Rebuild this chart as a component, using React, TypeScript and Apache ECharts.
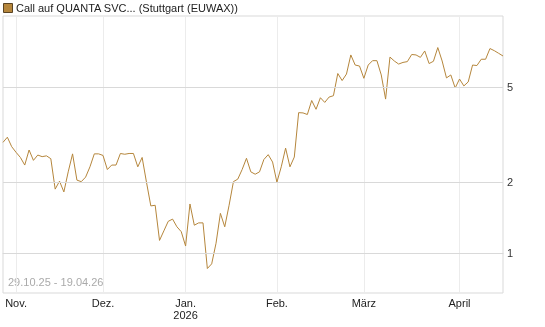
import React, { useEffect, useRef } from "react";
import * as echarts from "echarts";

const startDate = "2025-10-29";
const endDate = "2026-04-17";
const holidays = ["2025-12-24", "2025-12-25", "2025-12-26", "2025-12-31", "2026-01-01", "2026-04-03", "2026-04-06"];
const monthNames = ["Jan.", "Feb.", "März", "April", "Mai", "Juni", "Juli", "Aug.", "Sept.", "Okt.", "Nov.", "Dez."];

const prices = [
  2.93, 3.08, 2.81, 2.66, 2.53, 2.35, 2.72, 2.46, 2.59, 2.55,
  2.57, 2.50, 1.86, 2.01, 1.81, 2.20, 2.62, 2.03, 2.00, 2.09,
  2.31, 2.62, 2.62, 2.58, 2.25, 2.35, 2.35, 2.63, 2.61, 2.63,
  2.63, 2.31, 2.53, 1.99, 1.58, 1.59, 1.13, 1.24, 1.36, 1.39,
  1.29, 1.23, 1.07, 1.61, 1.31, 1.34, 1.34, 0.86, 0.90, 1.10,
  1.47, 1.29, 1.59, 2.00, 2.05, 2.25, 2.51, 2.20, 2.15, 2.20,
  2.48, 2.60, 2.42, 1.99, 2.31, 2.77, 2.31, 2.54, 3.91, 3.90,
  3.84, 4.40, 4.04, 4.52, 4.32, 4.55, 4.61, 5.72, 5.34, 5.69,
  6.85, 6.21, 6.15, 5.46, 6.21, 6.48, 6.48, 5.64, 4.46, 6.71,
  6.46, 6.27, 6.37, 6.42, 6.88, 6.85, 6.69, 7.12, 6.30, 6.44,
  7.36, 6.46, 5.48, 5.64, 4.97, 5.42, 5.07, 5.27, 6.21, 6.18,
  6.57, 6.57, 7.29, 7.14, 6.96, 6.78,
];

const yTicks = [1, 2, 5];
const yMin = 0.678;
const yMax = 10;

const title = "Call auf QUANTA SVC... (Stuttgart (EUWAX))";
const rangeText = "29.10.25 - 19.04.26";

function buildDates(): string[] {
  const out: string[] = [];
  const d = new Date(startDate + "T00:00:00Z");
  const end = new Date(endDate + "T00:00:00Z");
  while (d <= end) {
    const iso = d.toISOString().slice(0, 10);
    const wd = d.getUTCDay();
    if (wd !== 0 && wd !== 6 && holidays.indexOf(iso) < 0) out.push(iso);
    d.setUTCDate(d.getUTCDate() + 1);
  }
  return out;
}

export default function App() {
  const ref = useRef<HTMLDivElement>(null);
  useEffect(() => {
    if (!ref.current) return;
    const chart = echarts.init(ref.current, null, { renderer: "svg" });
    const dates = buildDates();
    const isMonthStart = (i: number) => i > 0 && dates[i].slice(5, 7) !== dates[i - 1].slice(5, 7);
    const logData = prices.map((v) => Math.log10(v));
    const font = "'Liberation Sans', Arial, sans-serif";
    chart.setOption({
      animation: false,
      grid: { left: 3, right: 42, top: 16, bottom: 34, show: true, borderColor: "#d9d9d9", borderWidth: 1, backgroundColor: "transparent" },
      xAxis: {
        type: "category",
        data: dates,
        boundaryGap: false,
        axisLine: { show: true, lineStyle: { color: "#d9d9d9" } },
        axisTick: { show: false },
        splitLine: { show: true, interval: (i: number) => isMonthStart(i), lineStyle: { color: "#ececec", width: 1 } },
        axisLabel: {
          interval: (i: number) => isMonthStart(i),
          margin: 4,
          color: "#222",
          fontSize: 11,
          fontFamily: font,
          lineHeight: 12,
          formatter: (val: string) => {
            const m = parseInt(val.slice(5, 7), 10) - 1;
            const name = monthNames[m];
            return m === 0 ? name + "\n" + val.slice(0, 4) : name;
          },
        },
      },
      yAxis: {
        type: "value",
        position: "right",
        min: Math.log10(yMin),
        max: Math.log10(yMax),
        axisLine: { show: false },
        axisTick: { show: false },
        axisLabel: { show: false },
        splitLine: { show: false },
      },
      series: [
        {
          type: "line",
          data: logData,
          z: 1,
          showSymbol: false,
          silent: true,
          lineStyle: { opacity: 0 },
          markLine: {
            silent: true,
            symbol: "none",
            lineStyle: { color: "#d9d9d9", type: "solid", width: 1 },
            label: { position: "end", distance: 4, color: "#333", fontSize: 11, fontFamily: font, formatter: (p: any) => String(Math.round(Math.pow(10, p.value))) },
            data: yTicks.map((t) => ({ yAxis: Math.log10(t) })),
          },
        },
        {
          type: "line",
          data: logData,
          z: 3,
          showSymbol: false,
          lineStyle: { color: "#b5863c", width: 1 },
        },
      ],
      graphic: [
        { type: "rect", left: 3, top: 3, shape: { width: 9, height: 9 }, style: { fill: "#b5863c", stroke: "#5a4424", lineWidth: 1 } },
        { type: "text", left: 16, top: 2, style: { text: title, fill: "#222", fontSize: 11, fontFamily: font } },
        { type: "text", left: 8, top: 276, style: { text: rangeText, fill: "#aaa", fontSize: 11, fontFamily: font } },
      ],
    });
    return () => chart.dispose();
  }, []);
  return <div ref={ref} style={{ position: "fixed", left: 0, top: 0, width: 545, height: 327 }} />;
}
